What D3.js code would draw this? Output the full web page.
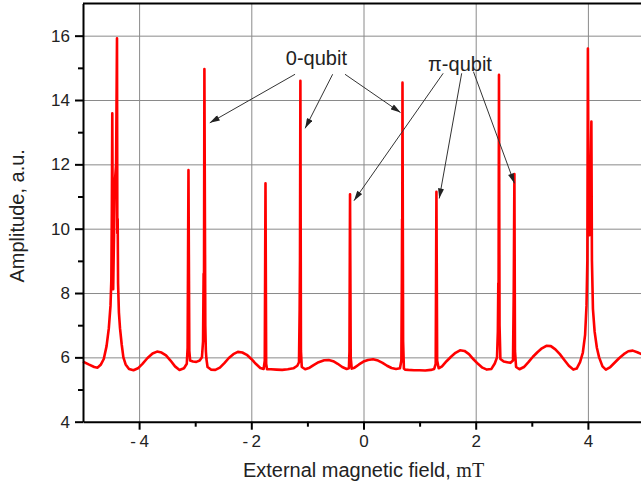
<!DOCTYPE html>
<html>
<head>
<meta charset="utf-8">
<script src="https://cdn.jsdelivr.net/npm/d3@7"></script>
<style>
  body { margin: 0; background: #fff; }
  svg { display: block; font-family: "Liberation Sans", Arial, sans-serif; }
</style>
</head>
<body>
<div class="visArea"></div>
<script>
// Trace: field (mT) and amplitude (a.u.)
var fieldX = [
  -5.00, -4.90, -4.80, -4.74, -4.68, -4.63, -4.58, -4.54, -4.51, -4.495, -4.486, -4.478, -4.47, -4.462,
  -4.45, -4.43, -4.41, -4.394, -4.388, -4.382, -4.375, -4.36, -4.34, -4.31, -4.28, -4.24, -4.18,
  -4.10, -4.02, -3.94, -3.85, -3.76, -3.68, -3.60, -3.52, -3.44, -3.36, -3.28, -3.20, -3.15, -3.135,
  -3.12, -3.105, -3.09, -3.04, -2.98, -2.92, -2.88, -2.86, -2.85, -2.843, -2.836, -2.82, -2.81, -2.80,
  -2.78, -2.72, -2.64, -2.56, -2.48, -2.40, -2.32, -2.24, -2.16, -2.08, -2.00, -1.92, -1.84, -1.78,
  -1.76, -1.747, -1.735, -1.72, -1.65, -1.55, -1.45, -1.35, -1.25, -1.18, -1.15, -1.138, -1.132,
  -1.125, -1.115, -1.10, -1.04, -0.96, -0.89, -0.80, -0.70, -0.62, -0.54, -0.46, -0.38, -0.30, -0.26,
  -0.25, -0.24, -0.228, -0.21, -0.16, -0.08, 0.00, 0.08, 0.17, 0.26, 0.34, 0.42, 0.50, 0.58, 0.65,
  0.675, 0.684, 0.688, 0.69, 0.695, 0.706, 0.72, 0.74, 0.80, 0.90, 1.00, 1.10, 1.20, 1.26, 1.287,
  1.30, 1.313, 1.34, 1.40, 1.48, 1.56, 1.64, 1.72, 1.80, 1.88, 1.96, 2.04, 2.12, 2.20, 2.28, 2.34,
  2.38, 2.395, 2.403, 2.408, 2.415, 2.425, 2.44, 2.50, 2.56, 2.62, 2.665, 2.678, 2.69, 2.70, 2.72,
  2.78, 2.86, 2.94, 3.02, 3.10, 3.18, 3.26, 3.34, 3.42, 3.50, 3.58, 3.66, 3.74, 3.80, 3.86, 3.91,
  3.95, 3.975, 3.99, 4.00, 4.012, 4.027, 4.045, 4.062, 4.072, 4.09, 4.12, 4.16, 4.20, 4.26, 4.32,
  4.40, 4.48, 4.56, 4.64, 4.72, 4.80, 4.88, 4.96, 5.00
];
var amplitude = [
  5.87, 5.78, 5.70, 5.68, 5.78, 5.95, 6.35, 6.90, 7.60, 8.40, 10.5, 13.59, 10.0, 8.12,
  9.50, 11.5, 12.0, 15.92, 9.86, 10.3, 8.30, 7.40, 6.90, 6.40, 6.00, 5.78, 5.64,
  5.60, 5.66, 5.80, 5.98, 6.12, 6.18, 6.15, 6.06, 5.90, 5.72, 5.61, 5.66, 5.80, 6.30,
  11.82, 6.20, 5.90, 5.87, 5.86, 5.90, 6.00, 6.50, 8.60, 8.30, 14.96, 7.00, 6.20, 5.95,
  5.70, 5.62, 5.61, 5.68, 5.82, 5.98, 6.10, 6.17, 6.15, 6.08, 5.95, 5.80, 5.67, 5.64,
  5.90, 11.41, 5.80, 5.63, 5.63, 5.62, 5.61, 5.63, 5.66, 5.74, 5.85, 7.50, 9.00,
  14.60, 6.20, 5.70, 5.63, 5.68, 5.76, 5.85, 5.91, 5.92, 5.88, 5.80, 5.70, 5.64, 5.66,
  6.20, 11.07, 6.00, 5.65, 5.68, 5.78, 5.87, 5.92, 5.94, 5.90, 5.83, 5.74, 5.67, 5.64, 5.66,
  5.90, 8.50, 10.3, 9.00, 14.54, 6.50, 5.65, 5.62, 5.61, 5.60, 5.60, 5.59, 5.61, 5.64, 5.80,
  11.15, 5.90, 5.66, 5.72, 5.88, 6.02, 6.14, 6.22, 6.20, 6.10, 5.94, 5.80, 5.68, 5.62, 5.64, 5.81,
  6.00, 6.80, 8.30, 8.10, 14.78, 7.00, 5.95, 5.87, 5.85, 5.83, 5.90, 8.00, 11.70, 6.20, 5.70,
  5.63, 5.70, 5.85, 6.02, 6.16, 6.28, 6.36, 6.35, 6.25, 6.10, 5.92, 5.74, 5.62, 5.65, 5.85, 6.15,
  6.70, 7.60, 9.00, 15.60, 10.5, 9.80, 11.0, 13.33, 9.00, 7.50, 6.80, 6.30, 6.00, 5.72, 5.62,
  5.70, 5.84, 5.98, 6.10, 6.19, 6.21, 6.16, 6.10, 6.07
];

var xTicks = [-4, -2, 0, 2, 4];
var xMinorTicks = [-3, -1, 1, 3];
var yTicks = [4, 6, 8, 10, 12, 14, 16];
var yMinorTicks = [5, 7, 9, 11, 13, 15];

// Annotations, in data units
var labelText = ["0-qubit", "\u03c0-qubit"];
var labelX = [-0.84, 1.72];
var labelY = [15.10, 14.89];
var arrowFromX = [-1.22, -0.55, -0.33, 1.42, 1.75, 1.96];
var arrowFromY = [14.80, 14.80, 14.80, 14.83, 14.83, 14.88];
var arrowToX = [-2.74, -1.04, 0.66, -0.17, 1.35, 2.69];
var arrowToY = [13.29, 13.12, 13.61, 10.87, 10.94, 11.41];

var svgWidth = 641;
var svgHeight = 490;
var margin = {top: 3.5, right: -3, bottom: 68.3, left: 83};
var plotWidth = svgWidth - margin.left - margin.right;
var plotHeight = svgHeight - margin.top - margin.bottom;

var svg = d3.select('.visArea')
  .append('svg')
  .attr('width', svgWidth)
  .attr('height', svgHeight);

var x = d3.scaleLinear().domain([-5, 5]).range([margin.left, margin.left + plotWidth]);
var y = d3.scaleLinear().domain([4, 17]).range([margin.top + plotHeight, margin.top]);

var tickFmt = function(d) { return d < 0 ? '-\u2009' + Math.abs(d) : String(d); };

// Grid
svg.append('g')
  .attr('transform', 'translate(0,' + y(4) + ')')
  .call(d3.axisBottom(x).tickValues(xTicks).tickSize(-(y(4) - y(17))).tickFormat(''))
  .call(g => g.select('.domain').remove())
  .selectAll('line').attr('stroke', '#8a8a8a').attr('stroke-width', 1);

svg.append('g')
  .attr('transform', 'translate(' + x(-5) + ',0)')
  .call(d3.axisLeft(y).tickValues(yTicks.filter(d => d > 4)).tickSize(-plotWidth).tickFormat(''))
  .call(g => g.select('.domain').remove())
  .selectAll('line').attr('stroke', '#8a8a8a').attr('stroke-width', 1);

// Trace
var line = d3.line()
  .x(function(d, i) { return x(fieldX[i]); })
  .y(function(d) { return y(d); });

svg.append('path')
  .datum(amplitude)
  .attr('d', line)
  .attr('fill', 'none')
  .attr('stroke', '#ff0000')
  .attr('stroke-width', 2.6)
  .attr('stroke-linejoin', 'round');

// Top frame line
svg.append('line')
  .attr('x1', x(-5)).attr('x2', x(5))
  .attr('y1', y(17)).attr('y2', y(17))
  .attr('stroke', '#000').attr('stroke-width', 2);

// Axes
var xAxis = svg.append('g')
  .attr('transform', 'translate(0,' + y(4) + ')')
  .call(d3.axisBottom(x).tickValues(xTicks).tickSize(8).tickSizeOuter(0).tickPadding(5).tickFormat(tickFmt));
svg.append('g')
  .attr('transform', 'translate(0,' + y(4) + ')')
  .call(d3.axisBottom(x).tickValues(xMinorTicks).tickSize(5).tickFormat(''))
  .call(g => g.select('.domain').remove());

var yAxis = svg.append('g')
  .attr('transform', 'translate(' + x(-5) + ',0)')
  .call(d3.axisLeft(y).tickValues(yTicks).tickSize(8).tickSizeOuter(0).tickPadding(5).tickFormat(tickFmt));
svg.append('g')
  .attr('transform', 'translate(' + x(-5) + ',0)')
  .call(d3.axisLeft(y).tickValues(yMinorTicks).tickSize(5).tickFormat(''))
  .call(g => g.select('.domain').remove());

svg.selectAll('.domain').attr('stroke', '#000').attr('stroke-width', 2);
svg.selectAll('.tick line').filter(function() { return this.getAttribute('stroke') !== '#8a8a8a'; })
  .attr('stroke', '#000').attr('stroke-width', 2);
xAxis.selectAll('text').attr('font-size', 17).attr('fill', '#222').attr('font-family', 'Liberation Sans, Arial, sans-serif');
yAxis.selectAll('text').attr('font-size', 17).attr('fill', '#222').attr('font-family', 'Liberation Sans, Arial, sans-serif');

// Axis titles
var xTitle = svg.append('text')
  .attr('x', x(0))
  .attr('y', 477)
  .attr('text-anchor', 'middle')
  .attr('font-size', 20)
  .attr('fill', '#222');
xTitle.append('tspan').text('External magnetic field, ');
xTitle.append('tspan').attr('font-family', 'Liberation Serif, Times New Roman, serif').text('mT');

svg.append('text')
  .attr('transform', 'translate(24,' + y(10.4) + ') rotate(-90)')
  .attr('text-anchor', 'middle')
  .attr('font-size', 20)
  .attr('fill', '#222')
  .text('Amplitude, a.u.');

// Arrow annotations
svg.append('defs').append('marker')
  .attr('id', 'arrowHead')
  .attr('viewBox', '0 0 10 6')
  .attr('refX', 10).attr('refY', 3)
  .attr('markerUnits', 'userSpaceOnUse')
  .attr('markerWidth', 11).attr('markerHeight', 6)
  .attr('orient', 'auto')
  .append('path')
  .attr('d', 'M0,0L10,3L0,6Z')
  .attr('fill', '#222');

arrowFromX.forEach(function(d, i) {
  svg.append('line')
    .attr('x1', x(arrowFromX[i])).attr('y1', y(arrowFromY[i]))
    .attr('x2', x(arrowToX[i])).attr('y2', y(arrowToY[i]))
    .attr('stroke', '#333').attr('stroke-width', 1)
    .attr('marker-end', 'url(#arrowHead)');
});

labelText.forEach(function(d, i) {
  svg.append('text')
    .attr('x', x(labelX[i]))
    .attr('y', y(labelY[i]))
    .attr('text-anchor', 'middle')
    .attr('font-size', 20)
    .attr('fill', '#222')
    .text(d);
});
</script>
</body>
</html>
